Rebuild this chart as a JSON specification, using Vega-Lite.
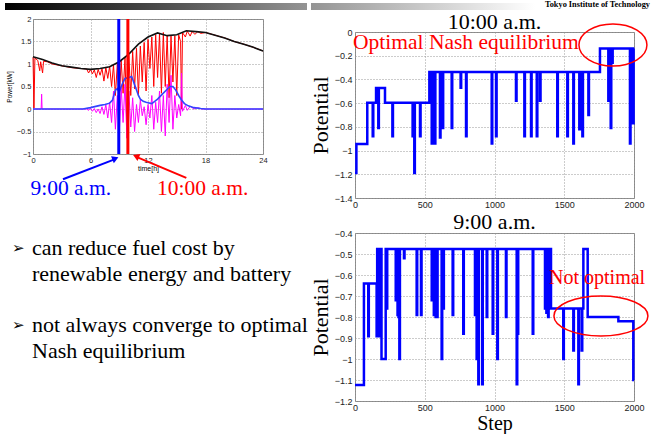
{
"$schema": "https://vega.github.io/schema/vega-lite/v6.json",
"padding": {"left": 5, "top": 0, "right": 0, "bottom": 0},
"spacing": 0,
"config": {
  "view": {"stroke": "#888888"},
  "axis": {"labelFont": "Liberation Sans", "labelFontSize": 9, "labelColor": "#222222", "labelOverlap": false, "labelFlush": false, "domain": false, "ticks": false, "grid": true, "gridDash": [1, 2], "gridColor": "#999999", "titleFont": "Liberation Serif", "titleFontWeight": "normal", "titleColor": "#000000", "labelPadding": 3, "tickCount": 20},
  "title": {"font": "Liberation Serif", "fontWeight": "normal", "fontSize": 22, "color": "#000000", "frame": "group"}
},
"hconcat": [
  {
    "spacing": 4,
    "vconcat": [
      {
        "width": 274, "height": 10, "view": {"stroke": null},
        "data": {"values": [{}]},
        "mark": {"type": "rect", "color": {"gradient": "linear", "x1": 0, "x2": 1, "y1": 0, "y2": 0, "stops": [{"offset": 0, "color": "#000000"}, {"offset": 1, "color": "#949494"}]}},
        "encoding": {"x": {"datum": -28, "type": "quantitative", "scale": {"domain": [0, 274], "nice": false, "zero": false}, "axis": null}, "x2": {"datum": 274}, "y": {"datum": 3, "type": "quantitative", "scale": {"domain": [0, 10], "reverse": true, "nice": false}, "axis": null}, "y2": {"datum": 10}}
      },
      {
        "width": 230, "height": 135,
        "layer": [
          {"data": {"values": [
            {"t":0,"p":1.15},{"t":0.1,"p":0.02},{"t":0.2,"p":1.13},{"t":0.5,"p":1.08},{"t":0.7,"p":0.85},{"t":0.8,"p":1.05},{"t":1.0,"p":0.8},{"t":1.1,"p":1.06},{"t":1.5,"p":1.05},{"t":2,"p":1.0},{"t":3,"p":0.96},{"t":4,"p":0.92},{"t":5,"p":0.9},{"t":5.6,"p":0.89},{"t":5.8,"p":0.8},{"t":6.0,"p":0.88},{"t":6.2,"p":0.78},{"t":6.4,"p":0.87},{"t":6.6,"p":0.7},{"t":6.8,"p":0.88},{"t":7.0,"p":0.75},{"t":7.2,"p":0.9},{"t":7.4,"p":0.62},{"t":7.6,"p":0.92},{"t":7.8,"p":0.68},{"t":8.0,"p":0.95},{"t":8.2,"p":0.5},{"t":8.4,"p":0.98},{"t":8.6,"p":0.3},{"t":8.8,"p":1.02},{"t":9.0,"p":0.2},{"t":9.2,"p":1.08},{"t":9.4,"p":0.35},{"t":9.6,"p":1.15},{"t":9.8,"p":-0.45},{"t":10.0,"p":1.2},{"t":10.2,"p":0.3},{"t":10.4,"p":1.28},{"t":10.6,"p":0.45},{"t":10.8,"p":1.35},{"t":11.0,"p":0.3},{"t":11.2,"p":1.4},{"t":11.4,"p":0.6},{"t":11.6,"p":1.48},{"t":11.8,"p":0.4},{"t":12.0,"p":1.55},{"t":12.2,"p":0.9},{"t":12.4,"p":1.6},{"t":12.6,"p":0.5},{"t":12.8,"p":1.65},{"t":13.0,"p":0.7},{"t":13.2,"p":1.68},{"t":13.4,"p":0.35},{"t":13.6,"p":1.7},{"t":13.8,"p":0.5},{"t":14.0,"p":1.63},{"t":14.2,"p":0.25},{"t":14.4,"p":1.62},{"t":14.6,"p":0.6},{"t":14.8,"p":1.63},{"t":15.0,"p":0.3},{"t":15.2,"p":1.65},{"t":15.4,"p":1.5},{"t":15.5,"p":0.0},{"t":15.6,"p":1.7},{"t":15.9,"p":1.6},{"t":16.1,"p":1.73},{"t":16.4,"p":1.62},{"t":16.6,"p":1.72},{"t":16.9,"p":1.66},{"t":17.2,"p":1.72},{"t":17.5,"p":1.68},{"t":18,"p":1.7},{"t":19,"p":1.64},{"t":20,"p":1.58},{"t":21,"p":1.5},{"t":22,"p":1.44},{"t":23,"p":1.37},{"t":24,"p":1.29}
          ]},
           "mark": {"type": "line", "color": "#ff0000", "strokeWidth": 1},
           "encoding": {
             "x": {"field": "t", "type": "quantitative", "scale": {"domain": [0, 24], "nice": false}, "axis": {"values": [0, 6, 12, 18, 24], "title": "time[h]", "labelFontSize": 7.5, "titleFont": "Liberation Sans", "titleFontSize": 7, "titlePadding": 1, "labelPadding": 2}},
             "y": {"field": "p", "type": "quantitative", "scale": {"domain": [-1, 2], "nice": false}, "axis": {"values": [-1, -0.5, 0, 0.5, 1, 1.5, 2], "title": "Power[kW]", "format": "~g", "labelFontSize": 7.5, "titleFont": "Liberation Sans", "titleFontSize": 6.5, "titlePadding": 4, "labelPadding": 2}}
           }},
          {"data": {"values": [
            {"t":0,"p":0},{"t":0.85,"p":0},{"t":0.9,"p":0.33},{"t":0.95,"p":0},{"t":5.6,"p":0},{"t":5.8,"p":-0.03},{"t":6.0,"p":0.02},{"t":6.2,"p":-0.05},{"t":6.4,"p":0.01},{"t":6.6,"p":-0.08},{"t":6.8,"p":0.0},{"t":7.0,"p":-0.1},{"t":7.2,"p":0.05},{"t":7.4,"p":-0.12},{"t":7.6,"p":0.1},{"t":7.8,"p":-0.2},{"t":8.0,"p":0.15},{"t":8.2,"p":-0.3},{"t":8.4,"p":0.4},{"t":8.6,"p":-0.45},{"t":8.8,"p":0.3},{"t":9.0,"p":-0.55},{"t":9.2,"p":0.5},{"t":9.4,"p":-0.3},{"t":9.6,"p":0.55},{"t":9.8,"p":-0.65},{"t":10.0,"p":0.4},{"t":10.2,"p":-0.4},{"t":10.4,"p":0.25},{"t":10.6,"p":-0.5},{"t":10.8,"p":0.1},{"t":11.0,"p":-0.3},{"t":11.2,"p":0.2},{"t":11.4,"p":-0.15},{"t":11.6,"p":0.05},{"t":11.8,"p":-0.35},{"t":12.0,"p":0.1},{"t":12.2,"p":-0.2},{"t":12.4,"p":0.3},{"t":12.6,"p":-0.45},{"t":12.8,"p":0.15},{"t":13.0,"p":-0.3},{"t":13.2,"p":0.4},{"t":13.4,"p":-0.5},{"t":13.6,"p":0.3},{"t":13.8,"p":-0.6},{"t":14.0,"p":0.55},{"t":14.2,"p":-0.3},{"t":14.4,"p":0.75},{"t":14.6,"p":-0.45},{"t":14.8,"p":0.3},{"t":15.0,"p":-0.2},{"t":15.2,"p":0.1},{"t":15.4,"p":-0.15},{"t":15.5,"p":0.8},{"t":15.6,"p":-0.05},{"t":15.9,"p":0.08},{"t":16.1,"p":-0.03},{"t":16.4,"p":0.06},{"t":16.8,"p":0.0},{"t":17.2,"p":0.03},{"t":17.6,"p":0.0},{"t":24,"p":0}
          ]},
           "mark": {"type": "line", "color": "#ff00ff", "strokeWidth": 1},
           "encoding": {"x": {"field": "t", "type": "quantitative"}, "y": {"field": "p", "type": "quantitative"}}},
          {"data": {"values": [
            {"t":0,"p":0},{"t":5.2,"p":0},{"t":6,"p":0.03},{"t":7,"p":0.08},{"t":7.5,"p":0.1},{"t":8,"p":0.13},{"t":8.3,"p":0.2},{"t":8.6,"p":0.42},{"t":8.8,"p":0.45},{"t":9.0,"p":0.38},{"t":9.3,"p":0.55},{"t":9.6,"p":0.68},{"t":10.0,"p":0.7},{"t":10.3,"p":0.72},{"t":10.5,"p":0.6},{"t":10.8,"p":0.42},{"t":11.0,"p":0.3},{"t":11.2,"p":0.22},{"t":11.5,"p":0.17},{"t":11.8,"p":0.15},{"t":12.0,"p":0.14},{"t":12.4,"p":0.12},{"t":12.7,"p":0.17},{"t":13.0,"p":0.22},{"t":13.5,"p":0.33},{"t":14.0,"p":0.44},{"t":14.3,"p":0.5},{"t":14.6,"p":0.5},{"t":14.9,"p":0.42},{"t":15.2,"p":0.3},{"t":15.5,"p":0.2},{"t":15.8,"p":0.12},{"t":16.2,"p":0.07},{"t":16.8,"p":0.03},{"t":17.5,"p":0.01},{"t":18,"p":0},{"t":24,"p":0}
          ]},
           "mark": {"type": "line", "color": "#3344ff", "strokeWidth": 1.6},
           "encoding": {"x": {"field": "t", "type": "quantitative"}, "y": {"field": "p", "type": "quantitative"}}},
          {"data": {"values": [
            {"t":0,"p":1.16},{"t":1,"p":1.1},{"t":2,"p":1.02},{"t":3,"p":0.96},{"t":4,"p":0.93},{"t":5,"p":0.9},{"t":6,"p":0.88},{"t":7,"p":0.9},{"t":8,"p":0.94},{"t":9,"p":1.05},{"t":10,"p":1.22},{"t":11,"p":1.44},{"t":12,"p":1.6},{"t":13,"p":1.69},{"t":14,"p":1.63},{"t":15,"p":1.65},{"t":16,"p":1.74},{"t":17,"p":1.72},{"t":18,"p":1.7},{"t":19,"p":1.64},{"t":20,"p":1.58},{"t":21,"p":1.5},{"t":22,"p":1.44},{"t":23,"p":1.37},{"t":24,"p":1.29}
          ]},
           "mark": {"type": "line", "color": "#111111", "strokeWidth": 1.6},
           "encoding": {"x": {"field": "t", "type": "quantitative"}, "y": {"field": "p", "type": "quantitative"}}},
          {"data": {"values": [{}]},
           "mark": {"type": "rule", "color": "#0000ff", "strokeWidth": 3},
           "encoding": {"x": {"datum": 8.95, "type": "quantitative"}, "y": {"datum": -1, "type": "quantitative"}, "y2": {"datum": 2}}},
          {"data": {"values": [{}]},
           "mark": {"type": "rule", "color": "#ff0000", "strokeWidth": 3},
           "encoding": {"x": {"datum": 9.9, "type": "quantitative"}, "y": {"datum": -1, "type": "quantitative"}, "y2": {"datum": 2}}},
          {"data": {"values": [{}]},
           "mark": {"type": "rule", "color": "#0000ff", "strokeWidth": 2},
           "encoding": {"x": {"datum": 3.13, "type": "quantitative"}, "y": {"datum": -1.56, "type": "quantitative"}, "x2": {"datum": 8.5}, "y2": {"datum": -1.12}}},
          {"data": {"values": [{}]},
           "mark": {"type": "point", "shape": "triangle-up", "filled": true, "opacity": 1, "size": 55, "angle": 68, "color": "#0000ff"},
           "encoding": {"x": {"datum": 8.6, "type": "quantitative"}, "y": {"datum": -1.1, "type": "quantitative"}}},
          {"data": {"values": [{}]},
           "mark": {"type": "rule", "color": "#ff0000", "strokeWidth": 2},
           "encoding": {"x": {"datum": 16.0, "type": "quantitative"}, "y": {"datum": -1.53, "type": "quantitative"}, "x2": {"datum": 10.85}, "y2": {"datum": -1.07}}},
          {"data": {"values": [{}]},
           "mark": {"type": "point", "shape": "triangle-up", "filled": true, "opacity": 1, "size": 55, "angle": 293, "color": "#ff0000"},
           "encoding": {"x": {"datum": 10.75, "type": "quantitative"}, "y": {"datum": -1.05, "type": "quantitative"}}},
          {"data": {"values": [{}]},
           "mark": {"type": "text", "text": "9:00 a.m.", "color": "#0000ff", "font": "Liberation Serif", "fontSize": 21.5, "baseline": "middle", "align": "center"},
           "encoding": {"x": {"datum": 3.94, "type": "quantitative"}, "y": {"datum": -1.78, "type": "quantitative"}}},
          {"data": {"values": [{}]},
           "mark": {"type": "text", "text": "10:00 a.m.", "color": "#ff0000", "font": "Liberation Serif", "fontSize": 21.5, "baseline": "middle", "align": "center"},
           "encoding": {"x": {"datum": 17.7, "type": "quantitative"}, "y": {"datum": -1.78, "type": "quantitative"}}}
        ]
      },
      {
        "width": 268, "height": 195, "view": {"stroke": null},
        "data": {"values": [
          {"line": 1, "bullet": "➢", "text": "can reduce fuel cost by"},
          {"line": 2, "bullet": "", "text": "renewable energy and battery"},
          {"line": 4, "bullet": "➢", "text": "not always converge to optimal"},
          {"line": 5, "bullet": "", "text": "Nash equilibrium"}
        ]},
        "layer": [
          {"mark": {"type": "text", "align": "left", "baseline": "middle", "font": "DejaVu Sans", "fontSize": 15, "color": "#000000"},
           "encoding": {"x": {"datum": -21, "type": "quantitative", "scale": {"domain": [0, 268], "nice": false, "zero": false}, "axis": null}, "y": {"field": "line", "type": "quantitative", "scale": {"domain": [-0.67, 6.903], "reverse": true, "nice": false, "zero": false}, "axis": null}, "text": {"field": "bullet"}}},
          {"mark": {"type": "text", "align": "left", "baseline": "middle", "font": "Liberation Serif", "fontSize": 22, "color": "#000000"},
           "encoding": {"x": {"datum": -1, "type": "quantitative"}, "y": {"field": "line", "type": "quantitative"}, "text": {"field": "text"}}}
        ]
      }
    ]
  },
  {
    "spacing": 0,
    "vconcat": [
      {
        "width": 279, "height": 10, "view": {"stroke": null},
        "data": {"values": [{}]},
        "layer": [
          {"mark": {"type": "rect", "color": {"gradient": "linear", "x1": 0, "x2": 1, "y1": 0, "y2": 0, "stops": [{"offset": 0, "color": "#949494"}, {"offset": 1, "color": "#ffffff"}]}},
           "encoding": {"x": {"datum": -44, "type": "quantitative", "scale": {"domain": [0, 279], "nice": false, "zero": false}, "axis": null}, "x2": {"datum": 180}, "y": {"datum": 3, "type": "quantitative", "scale": {"domain": [0, 10], "reverse": true, "nice": false}, "axis": null}, "y2": {"datum": 10}}},
          {"mark": {"type": "text", "text": "Tokyo Institute of Technology", "align": "right", "baseline": "middle", "font": "Liberation Serif", "fontWeight": "bold", "fontSize": 8.3, "color": "#000000"},
           "encoding": {"x": {"datum": 295, "type": "quantitative"}, "y": {"datum": 5, "type": "quantitative"}}}
        ]
      },
      {
        "width": 279, "height": 166,
        "title": {"text": "10:00 a.m.", "offset": -13},
        "layer": [
          {"data": {"values": [
            {"step":0,"potential":-1.19},{"step":10,"potential":-0.945},{"step":88,"potential":-0.596},{"step":127,"potential":-0.88},{"step":131,"potential":-0.596},{"step":151,"potential":-0.473},{"step":167,"potential":-0.81},{"step":171,"potential":-0.473},{"step":215,"potential":-0.596},{"step":268,"potential":-0.88},{"step":272,"potential":-0.596},{"step":413,"potential":-0.88},{"step":417,"potential":-0.596},{"step":425,"potential":-1.19},{"step":429,"potential":-0.596},{"step":466,"potential":-0.88},{"step":470,"potential":-0.596},{"step":533,"potential":-0.337},{"step":550,"potential":-0.94},{"step":554,"potential":-0.337},{"step":560,"potential":-0.94},{"step":564,"potential":-0.337},{"step":572,"potential":-0.94},{"step":576,"potential":-0.337},{"step":609,"potential":-0.89},{"step":613,"potential":-0.337},{"step":628,"potential":-0.81},{"step":632,"potential":-0.337},{"step":693,"potential":-0.81},{"step":697,"potential":-0.337},{"step":757,"potential":-0.47},{"step":761,"potential":-0.337},{"step":796,"potential":-0.88},{"step":800,"potential":-0.337},{"step":980,"potential":-0.94},{"step":984,"potential":-0.337},{"step":1011,"potential":-0.88},{"step":1015,"potential":-0.337},{"step":1154,"potential":-0.58},{"step":1158,"potential":-0.337},{"step":1214,"potential":-0.88},{"step":1218,"potential":-0.337},{"step":1262,"potential":-0.88},{"step":1266,"potential":-0.337},{"step":1303,"potential":-0.88},{"step":1307,"potential":-0.337},{"step":1326,"potential":-0.58},{"step":1330,"potential":-0.337},{"step":1450,"potential":-0.88},{"step":1454,"potential":-0.337},{"step":1522,"potential":-0.88},{"step":1526,"potential":-0.337},{"step":1565,"potential":-0.94},{"step":1569,"potential":-0.337},{"step":1608,"potential":-0.82},{"step":1612,"potential":-0.337},{"step":1630,"potential":-0.88},{"step":1634,"potential":-0.337},{"step":1673,"potential":-0.7},{"step":1677,"potential":-0.337},{"step":1756,"potential":-0.14},{"step":1816,"potential":-0.58},{"step":1820,"potential":-0.14},{"step":1826,"potential":-0.26},{"step":1830,"potential":-0.14},{"step":1833,"potential":-0.81},{"step":1837,"potential":-0.14},{"step":1843,"potential":-0.26},{"step":1847,"potential":-0.14},{"step":1971,"potential":-0.94},{"step":1975,"potential":-0.14},{"step":1983,"potential":-0.77},{"step":1987,"potential":-0.14},{"step":1993,"potential":-0.77},{"step":1997,"potential":-0.14},{"step":2000,"potential":-0.14}
          ]},
           "mark": {"type": "line", "interpolate": "step-after", "color": "#0000ff", "strokeWidth": 2.5},
           "encoding": {
             "x": {"field": "step", "type": "quantitative", "scale": {"domain": [0, 2000], "nice": false}, "axis": {"values": [0, 500, 1000, 1500, 2000], "format": "d", "title": null, "labelPadding": 2}},
             "y": {"field": "potential", "type": "quantitative", "scale": {"domain": [-1.4, 0], "nice": false, "zero": false}, "axis": {"values": [-1.4, -1.2, -1, -0.8, -0.6, -0.4, -0.2, 0], "format": "~g", "title": "Potential", "titleFontSize": 22, "titlePadding": 2}}
           }},
          {"data": {"values": [{}]},
           "mark": {"type": "text", "text": "Optimal Nash equilibrium", "align": "left", "baseline": "middle", "color": "#ff0000", "font": "Liberation Serif", "fontSize": 21.5},
           "encoding": {"x": {"datum": -14, "type": "quantitative"}, "y": {"datum": -0.09, "type": "quantitative"}}},
          {"data": {"values": [{}]},
           "mark": {"type": "point", "shape": "M-1,0C-1,-0.342,-0.552,-0.62,0,-0.62C0.552,-0.62,1,-0.342,1,0C1,0.342,0.552,0.62,0,0.62C-0.552,0.62,-1,0.342,-1,0Z", "size": 4624, "filled": false, "opacity": 1, "color": "#ff0000", "strokeWidth": 1.5},
           "encoding": {"x": {"datum": 1849, "type": "quantitative"}, "y": {"datum": -0.11, "type": "quantitative"}}}
        ]
      },
      {
        "width": 279, "height": 168,
        "title": {"text": "9:00 a.m.", "offset": -5},
        "layer": [
          {"data": {"values": [
            {"step":0,"potential":-1.124},{"step":64,"potential":-0.64},{"step":95,"potential":-0.892},{"step":99,"potential":-0.64},{"step":155,"potential":-0.892},{"step":159,"potential":-0.476},{"step":172,"potential":-0.892},{"step":176,"potential":-0.476},{"step":190,"potential":-1.0},{"step":220,"potential":-0.476},{"step":227,"potential":-0.76},{"step":231,"potential":-0.476},{"step":292,"potential":-0.72},{"step":296,"potential":-0.476},{"step":305,"potential":-0.79},{"step":309,"potential":-0.476},{"step":312,"potential":-0.8},{"step":316,"potential":-0.476},{"step":318,"potential":-1.0},{"step":322,"potential":-0.476},{"step":351,"potential":-0.52},{"step":355,"potential":-0.476},{"step":442,"potential":-0.79},{"step":446,"potential":-0.476},{"step":473,"potential":-0.79},{"step":477,"potential":-0.476},{"step":550,"potential":-0.72},{"step":554,"potential":-0.476},{"step":565,"potential":-0.79},{"step":569,"potential":-0.476},{"step":578,"potential":-0.8},{"step":582,"potential":-0.476},{"step":588,"potential":-0.8},{"step":592,"potential":-0.476},{"step":621,"potential":-1.0},{"step":625,"potential":-0.476},{"step":633,"potential":-0.76},{"step":637,"potential":-0.476},{"step":700,"potential":-0.79},{"step":704,"potential":-0.476},{"step":776,"potential":-0.88},{"step":780,"potential":-0.476},{"step":860,"potential":-0.79},{"step":864,"potential":-0.476},{"step":872,"potential":-1.0},{"step":876,"potential":-0.476},{"step":884,"potential":-1.12},{"step":888,"potential":-0.476},{"step":912,"potential":-1.12},{"step":916,"potential":-0.476},{"step":944,"potential":-0.8},{"step":948,"potential":-0.476},{"step":987,"potential":-0.88},{"step":991,"potential":-0.476},{"step":1020,"potential":-1.0},{"step":1024,"potential":-0.476},{"step":1082,"potential":-0.8},{"step":1086,"potential":-0.476},{"step":1159,"potential":-1.12},{"step":1163,"potential":-0.476},{"step":1166,"potential":-0.88},{"step":1170,"potential":-0.476},{"step":1274,"potential":-0.88},{"step":1278,"potential":-0.476},{"step":1362,"potential":-0.76},{"step":1366,"potential":-0.476},{"step":1372,"potential":-0.78},{"step":1376,"potential":-0.476},{"step":1384,"potential":-0.8},{"step":1388,"potential":-0.476},{"step":1405,"potential":-0.76},{"step":1493,"potential":-1.0},{"step":1497,"potential":-0.76},{"step":1565,"potential":-0.96},{"step":1569,"potential":-0.76},{"step":1601,"potential":-1.12},{"step":1605,"potential":-0.76},{"step":1625,"potential":-0.96},{"step":1629,"potential":-0.76},{"step":1637,"potential":-0.476},{"step":1668,"potential":-0.8},{"step":1888,"potential":-0.82},{"step":1995,"potential":-1.1},{"step":2000,"potential":-1.1}
          ]},
           "mark": {"type": "line", "interpolate": "step-after", "color": "#0000ff", "strokeWidth": 2.5},
           "encoding": {
             "x": {"field": "step", "type": "quantitative", "scale": {"domain": [0, 2000], "nice": false}, "axis": {"values": [0, 500, 1000, 1500, 2000], "format": "d", "title": "Step", "titleFontSize": 20, "titlePadding": 1, "labelPadding": 2}},
             "y": {"field": "potential", "type": "quantitative", "scale": {"domain": [-1.2, -0.4], "nice": false, "zero": false}, "axis": {"values": [-1.2, -1.1, -1, -0.9, -0.8, -0.7, -0.6, -0.5, -0.4], "format": "~g", "title": "Potential", "titleFontSize": 22, "titlePadding": 2}}
           }},
          {"data": {"values": [{}]},
           "mark": {"type": "text", "text": "Not optimal", "align": "left", "baseline": "middle", "color": "#ff0000", "font": "Liberation Serif", "fontSize": 20},
           "encoding": {"x": {"datum": 1391, "type": "quantitative"}, "y": {"datum": -0.614, "type": "quantitative"}}},
          {"data": {"values": [{}]},
           "mark": {"type": "point", "shape": "M-1,0C-1,-0.235,-0.552,-0.426,0,-0.426C0.552,-0.426,1,-0.235,1,0C1,0.235,0.552,0.426,0,0.426C-0.552,0.426,-1,0.235,-1,0Z", "size": 8836, "filled": false, "opacity": 1, "color": "#ff0000", "strokeWidth": 1.5},
           "encoding": {"x": {"datum": 1763, "type": "quantitative"}, "y": {"datum": -0.795, "type": "quantitative"}}}
        ]
      }
    ]
  }
]
}
